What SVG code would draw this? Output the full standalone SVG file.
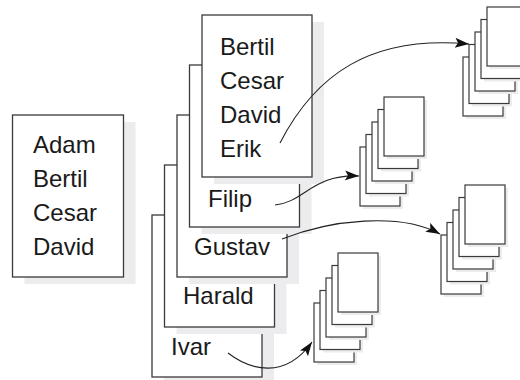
<svg xmlns="http://www.w3.org/2000/svg" width="520" height="380" viewBox="0 0 520 380">
<defs>
<style>
.box{fill:#fff;stroke:#3a3a3a;stroke-width:1.3}
.sh{fill:#ececee;stroke:none}
.pg{fill:#fff;stroke:#3a3a3a;stroke-width:1.2}
.t{font-family:"Liberation Sans",Arial,sans-serif;font-size:24px;fill:#1a1a1a}
.c{fill:none;stroke:#222;stroke-width:1.1}
</style>
<marker id="ah" markerUnits="userSpaceOnUse" markerWidth="16" markerHeight="12" refX="14" refY="5" orient="auto">
<path d="M0,0 L14,5 L0,10 L3,5 z" fill="#111"/>
</marker>
<g id="page">
<rect class="sh" x="3" y="3" width="40" height="59"/>
<rect class="pg" x="0" y="0" width="40" height="59"/>
</g>
<g id="stack">
<use href="#page" x="0" y="50"/>
<use href="#page" x="6" y="37.5"/>
<use href="#page" x="12" y="25"/>
<use href="#page" x="18" y="12.5"/>
<use href="#page" x="24" y="0"/>
</g>
</defs>
<rect width="520" height="380" fill="#fff"/>

<g id="left-box">
<rect class="sh" x="24.5" y="122" width="111" height="162"/>
<rect class="box" x="12.5" y="115" width="111" height="162"/>
<text class="t" x="33" y="153">Adam</text>
<text class="t" x="33" y="187">Bertil</text>
<text class="t" x="33" y="221">Cesar</text>
<text class="t" x="33" y="255">David</text>
</g>

<g id="box-ivar">
<rect class="sh" x="164" y="222" width="110" height="162"/>
<rect class="box" x="152" y="215" width="110" height="162"/>
<text class="t" x="171" y="355">Ivar</text>
</g>
<g id="box-harald">
<rect class="sh" x="176.5" y="172" width="110" height="162"/>
<rect class="box" x="164.5" y="165" width="110" height="162"/>
<text class="t" x="183" y="304">Harald</text>
</g>
<g id="box-gustav">
<rect class="sh" x="189" y="122" width="110" height="162"/>
<rect class="box" x="177" y="115" width="110" height="162"/>
<text class="t" x="194" y="255">Gustav</text>
</g>
<g id="box-filip">
<rect class="sh" x="201.5" y="72" width="110" height="162"/>
<rect class="box" x="189.5" y="65" width="110" height="162"/>
<text class="t" x="208" y="207">Filip</text>
</g>
<g id="box-front">
<rect class="sh" x="214" y="22" width="110" height="162"/>
<rect class="box" x="202" y="15" width="110" height="162"/>
<text class="t" x="220" y="55">Bertil</text>
<text class="t" x="220" y="89">Cesar</text>
<text class="t" x="220" y="123">David</text>
<text class="t" x="220" y="157">Erik</text>
</g>

<g id="stack-1"><use href="#stack" x="463" y="7"/></g>
<g id="stack-2"><use href="#stack" x="360" y="97"/></g>
<g id="stack-3"><use href="#stack" x="441" y="185"/></g>
<g id="stack-4"><use href="#stack" x="314" y="253"/></g>

<g id="connectors">
<path class="c" d="M280,143 C315,75 370,35 469,44" marker-end="url(#ah)"/>
<path class="c" d="M275,205 C305,202 312,174 359,176" marker-end="url(#ah)"/>
<path class="c" d="M282,239 C330,220 400,212 440,234" marker-end="url(#ah)"/>
<path class="c" d="M228,353 C250,370 285,380 312,342" marker-end="url(#ah)"/>
</g>
</svg>
